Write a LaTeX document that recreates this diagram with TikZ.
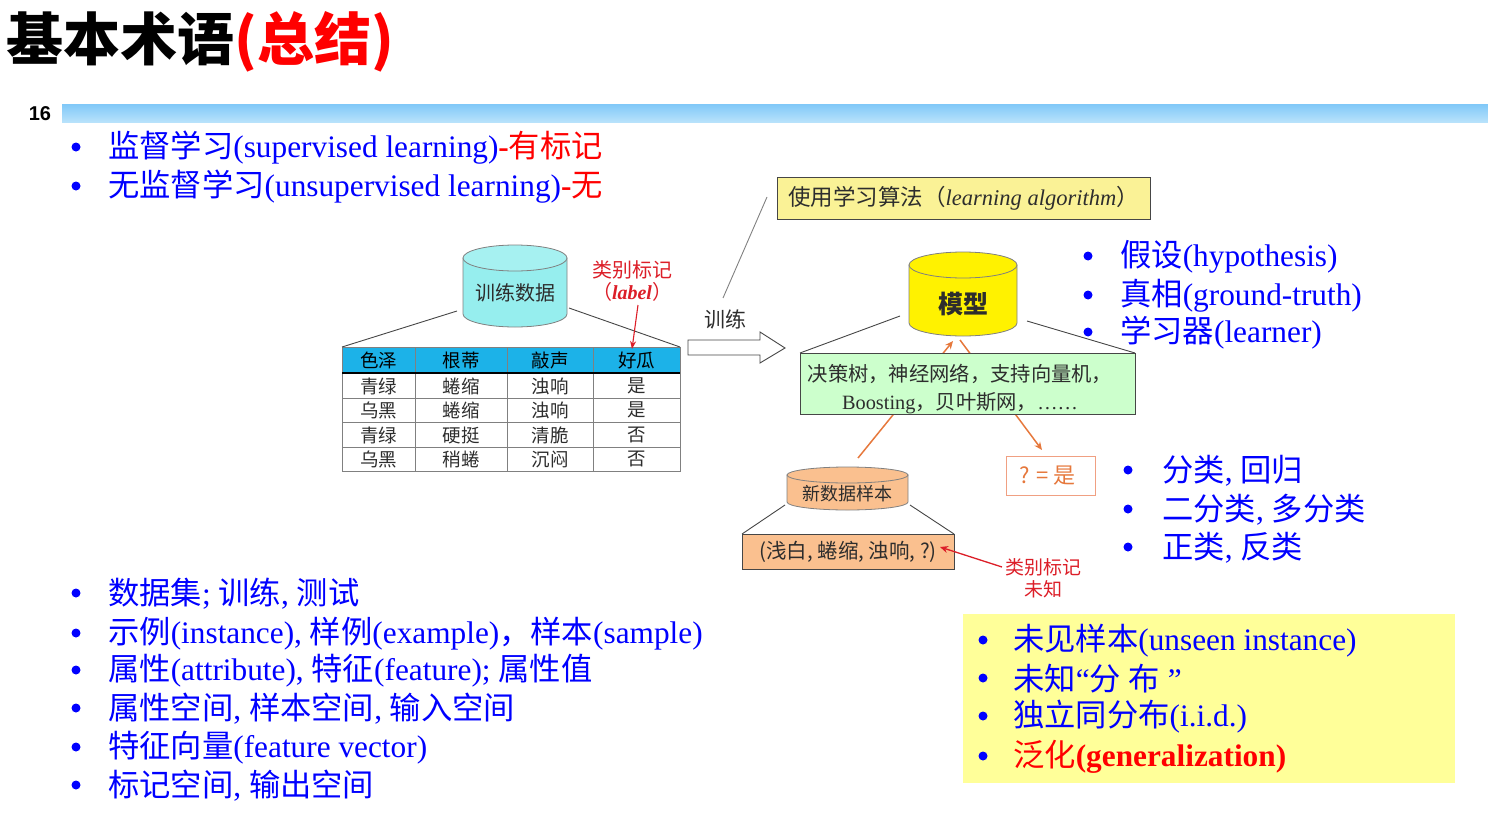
\documentclass[tikz,border=0pt]{standalone}
\usepackage{fontspec}
\setmainfont{Liberation Serif}
\newfontfamily\zhfont{Noto Sans CJK SC}
\newfontfamily\sansf{Liberation Sans}
\usetikzlibrary{arrows.meta}

\definecolor{bulletblue}{RGB}{0,0,255}
\definecolor{barTop}{RGB}{128,200,248}
\definecolor{barBot}{RGB}{184,226,251}
\definecolor{cylCyan}{RGB}{150,238,238}
\definecolor{hdrBlue}{RGB}{28,178,232}
\definecolor{algoYel}{RGB}{250,242,150}
\definecolor{modelYel}{RGB}{255,242,0}
\definecolor{greenBox}{RGB}{204,255,204}
\definecolor{peach}{RGB}{250,192,143}
\definecolor{arrOrange}{RGB}{230,120,60}
\definecolor{qBorder}{RGB}{240,160,130}
\definecolor{labRed}{RGB}{220,30,40}
\definecolor{noteYel}{RGB}{255,255,153}
\definecolor{edgeGray}{RGB}{70,70,70}
\definecolor{txtGray}{RGB}{45,45,45}

% Chinese runs inside mixed Chinese/Latin labels
\newcommand\zh[1]{{\zhfont #1}}
\newcommand\fsz[1]{\fontsize{#1}{#1}\selectfont}

\tikzset{
  item/.style={anchor=west, inner sep=0pt, text=bulletblue, font=\fsz{31.3}},
  dotb/.style={circle, fill=bulletblue, inner sep=0pt, minimum size=9pt},
  cell/.style={inner sep=0pt, text=txtGray, font=\zhfont\fsz{18.5}},
  hcell/.style={inner sep=0pt, text=black, font=\zhfont\fsz{18.5}},
  thinline/.style={edgeGray, line width=0.9pt},
  boxed/.style={draw=edgeGray, line width=0.9pt, inner sep=0pt, align=center},
}

\begin{document}
\begin{tikzpicture}[x=1pt, y=-1pt]
\useasboundingbox (0,0) rectangle (1488,827);

% ---------- heading ----------
\node[anchor=west, inner sep=0pt, font=\zhfont\bfseries\fsz{57}] (title) at (6,42)
  {基本术语\textcolor{red}{(总结)}};
\node[inner sep=0pt, font=\sansf\bfseries\fsz{20}] (pageno) at (40,114) {16};
\shade[top color=barTop, bottom color=barBot] (62,104) rectangle (1488,122);

% ---------- top bullets ----------
\node[dotb] (d1) at (76,147) {};
\node[item] (b1) at (108,148) {\zh{监督学习}(supervised learning)\textcolor{red}{\textbf{-}\zh{有标记}}};
\node[dotb] (d2) at (76,186) {};
\node[item] (b2) at (108,187) {\zh{无监督学习}(unsupervised learning)\textcolor{red}{\textbf{-}\zh{无}}};

% ---------- training data cylinder ----------
\path[draw=gray, line width=0.8pt, fill=cylCyan] (463,258) -- (463,314)
  arc[start angle=180, end angle=360, x radius=52pt, y radius=13pt] -- (567,258) -- cycle;
\draw[gray, line width=0.8pt, fill=cylCyan!85!white] (515,258) ellipse[x radius=52pt, y radius=13pt];
\node[inner sep=0pt, text=txtGray, font=\zhfont\fsz{20}] (train) at (515,293) {训练数据};

% ---------- data table ----------
\fill[hdrBlue] (342,347) rectangle (680,373);
\foreach \yy in {398,422,447} \draw[gray, line width=0.8pt] (342,\yy) -- (680,\yy);
\foreach \xx in {415,507,593} \draw[gray, line width=0.8pt] (\xx,347) -- (\xx,471);
\draw[gray, line width=0.8pt] (342,347) rectangle (680,471);
\draw[black, line width=1.2pt] (342,373) -- (680,373);

\node[hcell] (h1) at (378.5,360) {色泽};
\node[hcell] (h2) at (461,360) {根蒂};
\node[hcell] (h3) at (550,360) {敲声};
\node[hcell] (h4) at (636.5,360) {好瓜};

\node[cell] (r1c1) at (378.5,386) {青绿};
\node[cell] (r1c2) at (461,386) {蜷缩};
\node[cell] (r1c3) at (550,386) {浊响};
\node[cell] (r1c4) at (636.5,386) {是};
\node[cell] (r2c1) at (378.5,410) {乌黑};
\node[cell] (r2c2) at (461,410) {蜷缩};
\node[cell] (r2c3) at (550,410) {浊响};
\node[cell] (r2c4) at (636.5,410) {是};
\node[cell] (r3c1) at (378.5,435) {青绿};
\node[cell] (r3c2) at (461,435) {硬挺};
\node[cell] (r3c3) at (550,435) {清脆};
\node[cell] (r3c4) at (636.5,435) {否};
\node[cell] (r4c1) at (378.5,459) {乌黑};
\node[cell] (r4c2) at (461,459) {稍蜷};
\node[cell] (r4c3) at (550,459) {沉闷};
\node[cell] (r4c4) at (636.5,459) {否};

% zoom lines from cylinder to table
\coordinate (trL) at (457,311);
\coordinate (trR) at (569,308);
\coordinate (tabL) at (342,347);
\coordinate (tabR) at (680,347);
\draw[thinline] (trL) -- (tabL);
\draw[thinline] (trR) -- (tabR);

% label note
\node[inner sep=0pt, text=labRed, align=center, font=\fsz{20}] (lab) at (632,281)
  {\zh{类别标记}\\[2pt]\zh{（}\textbf{\textit{label}}\zh{）}};
\coordinate (labTail) at (638,305);
\coordinate (labTip) at (632,349);
\draw[labRed, line width=1.1pt, -{Stealth[length=8pt,width=6pt]}] (labTail) -- (labTip);

% ---------- training arrow ----------
\node[inner sep=0pt, text=txtGray, font=\zhfont\fsz{21}] (trainlbl) at (725,319) {训练};
\draw[edgeGray, line width=0.9pt, fill=white]
  (688,340) -- (760,340) -- (760,332) -- (785,348) -- (760,363) -- (760,355) -- (688,355) -- cycle;
\coordinate (algoA) at (723,298);
\coordinate (algoB) at (767,197);
\draw[gray, line width=0.9pt] (algoA) -- (algoB);

% ---------- learning algorithm box ----------
\node[boxed, fill=algoYel, minimum width=373pt, minimum height=42pt, text=txtGray, font=\fsz{22.5}]
  (algo) at (963.5,198) {\zh{使用学习算法（}\textit{learning algorithm}\zh{）}};

% ---------- model cylinder ----------
\path[draw=gray, line width=0.8pt, fill=modelYel] (909,265) -- (909,323)
  arc[start angle=180, end angle=360, x radius=54pt, y radius=13pt] -- (1017,265) -- cycle;
\draw[gray, line width=0.8pt, fill=modelYel] (963,265) ellipse[x radius=54pt, y radius=13pt];
\node[inner sep=0pt, text=txtGray, font=\zhfont\bfseries\fsz{25}] (model) at (963,304) {模型};

\coordinate (mdL) at (900,316);
\coordinate (mdR) at (1027,321);
\coordinate (grL) at (800,353);
\coordinate (grR) at (1135,353);
\draw[thinline] (mdL) -- (grL);
\draw[thinline] (mdR) -- (grR);

% orange flow: new sample -> model -> answer
\coordinate (newTop) at (858,458);
\coordinate (mdIn) at (953,341);
\coordinate (mdOut) at (960,340);
\coordinate (ansTop) at (1042,450);
\draw[arrOrange, line width=1.5pt, -{Stealth[length=8pt,width=7pt]}] (newTop) -- (mdIn);
\draw[arrOrange, line width=1.5pt, -{Stealth[length=8pt,width=7pt]}] (mdOut) -- (ansTop);

% ---------- algorithm families ----------
\node[boxed, fill=greenBox, minimum width=335pt, minimum height=61pt] (algos) at (967.5,384) {};
\node[inner sep=0pt, align=center, text=txtGray, font=\fsz{20.3}] (algosTxt) at (960,389)
  {\zh{决策树，神经网络，支持向量机，}\\[7pt]Boosting\zh{，贝叶斯网，}\ldots\ldots};

% ---------- prediction ----------
\node[draw=qBorder, line width=1pt, fill=white, minimum width=89pt, minimum height=39pt, inner sep=0pt,
  text=arrOrange, font=\zhfont\fsz{22}] (ans) at (1050.5,475.5) {\hspace*{-6pt}? = 是};

% ---------- new sample cylinder ----------
\path[draw=gray, line width=0.8pt, fill=peach] (787,475) -- (787,502)
  arc[start angle=180, end angle=360, x radius=60.5pt, y radius=8pt] -- (908,475) -- cycle;
\draw[gray, line width=0.8pt, fill=peach] (847.5,475) ellipse[x radius=60.5pt, y radius=8pt];
\node[inner sep=0pt, text=txtGray, font=\zhfont\fsz{18}] (newdata) at (847.5,494) {新数据样本};

\coordinate (nsL) at (785,505);
\coordinate (nsR) at (910,505);
\coordinate (smL) at (742,534);
\coordinate (smR) at (954,534);
\draw[thinline] (nsL) -- (smL);
\draw[thinline] (nsR) -- (smR);

\node[boxed, fill=peach, minimum width=212pt, minimum height=35pt, text=txtGray, font=\zhfont\fsz{20.5}]
  (sample) at (848,551.5) {(浅白, 蜷缩, 浊响, ?)};

\node[inner sep=0pt, text=labRed, align=center, font=\zhfont\fsz{19}] (unk) at (1043,578)
  {类别标记\\[3pt]未知};
\coordinate (unkTail) at (1002,567);
\coordinate (unkTip) at (940,547);
\draw[labRed, line width=1.3pt, -{Stealth[length=8pt,width=7pt]}] (unkTail) -- (unkTip);

% ---------- right bullets ----------
\node[dotb] (d3) at (1088,256) {};
\node[item] (b3) at (1120,257) {\zh{假设}(hypothesis)};
\node[dotb] (d4) at (1088,295) {};
\node[item] (b4) at (1120,296) {\zh{真相}(ground-truth)};
\node[dotb] (d5) at (1088,332) {};
\node[item] (b5) at (1120,333) {\zh{学习器}(learner)};

\node[dotb] (d6) at (1128,470) {};
\node[item] (b6) at (1162,471) {\zh{分类}, \zh{回归}};
\node[dotb] (d7) at (1128,509) {};
\node[item] (b7) at (1162,510) {\zh{二分类}, \zh{多分类}};
\node[dotb] (d8) at (1128,547) {};
\node[item] (b8) at (1162,548) {\zh{正类}, \zh{反类}};

% ---------- lower-left bullets ----------
\node[dotb] (d9) at (76,593) {};
\node[item] (b9) at (108,594) {\zh{数据集}; \zh{训练}, \zh{测试}};
\node[dotb] (d10) at (76,633) {};
\node[item] (b10) at (108,634) {\zh{示例}(instance), \zh{样例}(example)\zh{，}\zh{样本}(sample)};
\node[dotb] (d11) at (76,670) {};
\node[item] (b11) at (108,671) {\zh{属性}(attribute), \zh{特征}(feature); \zh{属性值}};
\node[dotb] (d12) at (76,708) {};
\node[item] (b12) at (108,709) {\zh{属性空间}, \zh{样本空间}, \zh{输入空间}};
\node[dotb] (d13) at (76,747) {};
\node[item] (b13) at (108,748) {\zh{特征向量}(feature vector)};
\node[dotb] (d14) at (76,785) {};
\node[item] (b14) at (108,786) {\zh{标记空间}, \zh{输出空间}};

% ---------- highlighted notes ----------
\node[fill=noteYel, minimum width=492pt, minimum height=169pt, inner sep=0pt] (note) at (1209,698.5) {};
\node[dotb] (d15) at (983,640) {};
\node[item] (b15) at (1013,641) {\zh{未见样本}(unseen instance)};
\node[dotb] (d16) at (983,678) {};
\node[item] (b16) at (1013,679) {\zh{未知}``\zh{分}\ \zh{布}\ ''};
\node[dotb] (d17) at (983,716) {};
\node[item] (b17) at (1013,717) {\zh{独立同分布}(i.i.d.)};
\node[dotb] (d18) at (983,756) {};
\node[item, text=red] (b18) at (1013,757) {\zh{泛化}\textbf{(generalization)}};

\end{tikzpicture}
\end{document}
